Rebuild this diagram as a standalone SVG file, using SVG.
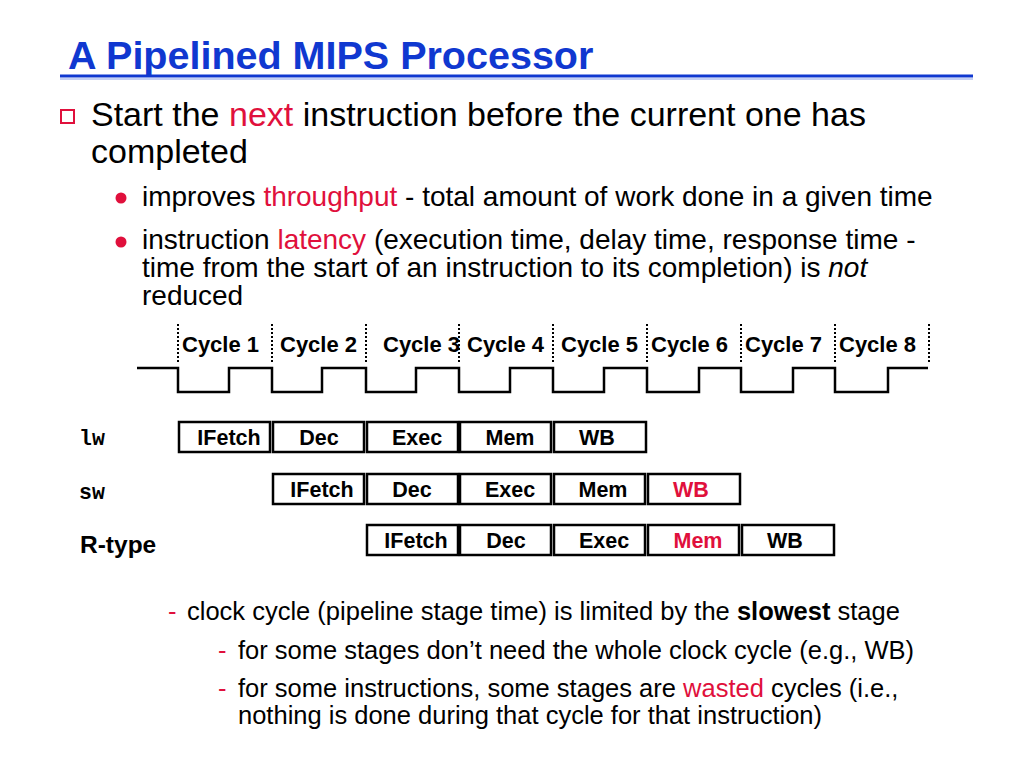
<svg xmlns="http://www.w3.org/2000/svg" width="1024" height="768" viewBox="0 0 1024 768">
<style>
.t{font-family:"Liberation Sans",Arial,sans-serif;fill:#000}
.r{fill:#e0103c}
.b{font-weight:bold}
.stage{fill:#fff;stroke:#000;stroke-width:2.5}
.sl{font-family:"Liberation Sans",Arial,sans-serif;font-weight:bold;font-size:21.5px;text-anchor:middle}
.cyc{font-family:"Liberation Sans",Arial,sans-serif;font-weight:bold;font-size:22px}
.dot{stroke:#000;stroke-width:2;stroke-dasharray:2 2}
.mono{font-family:"Liberation Mono","Courier New",monospace;font-weight:bold;font-size:21.5px}
</style>
<rect width="1024" height="768" fill="#fff"/>
<g id="title">
<text class="t b" x="68" y="69" font-size="39.5" style="fill:#1038d0">A Pipelined MIPS Processor</text>
<line x1="60" y1="76" x2="973" y2="76" stroke="#1038d0" stroke-width="3"/>
<line x1="60" y1="79" x2="973" y2="79" stroke="#8aa0e8" stroke-width="1"/>
</g>
<g id="bullets">
<rect x="61" y="110" width="13" height="13" fill="none" stroke="#e0103c" stroke-width="2"/>
<text class="t" x="91" y="126" font-size="34">Start the <tspan class="r">next</tspan> instruction before the current one has</text>
<text class="t" x="91" y="163" font-size="34">completed</text>
<circle cx="121" cy="198" r="5.5" fill="#e0103c"/>
<text class="t" x="142" y="206" font-size="28">improves <tspan class="r">throughput</tspan> - total amount of work done in a given time</text>
<circle cx="121" cy="242" r="5.5" fill="#e0103c"/>
<text class="t" x="142" y="249" font-size="28">instruction <tspan class="r">latency</tspan> (execution time, delay time, response time -</text>
<text class="t" x="142" y="277" font-size="28">time from the start of an instruction to its completion) is <tspan font-style="italic">not</tspan></text>
<text class="t" x="142" y="305" font-size="28">reduced</text>
</g>
<g id="clock">
<path d="M137 368 H178 V392 H229 V368 H272 V392 H322 V368 H366 V392 H416 V368 H459 V392 H510 V368 H553 V392 H604 V368 H647 V392 H699 V368 H741 V392 H793 V368 H835 V392 H888 V368 H928" fill="none" stroke="#000" stroke-width="2.5"/>
<line class="dot" x1="178" y1="324" x2="178" y2="362"/>
<line class="dot" x1="272" y1="324" x2="272" y2="362"/>
<line class="dot" x1="366" y1="324" x2="366" y2="362"/>
<line class="dot" x1="459" y1="324" x2="459" y2="362"/>
<line class="dot" x1="553" y1="324" x2="553" y2="362"/>
<line class="dot" x1="647" y1="324" x2="647" y2="362"/>
<line class="dot" x1="741" y1="324" x2="741" y2="362"/>
<line class="dot" x1="835" y1="324" x2="835" y2="362"/>
<line class="dot" x1="929" y1="324" x2="929" y2="362"/>
<text class="cyc" x="182" y="352">Cycle 1</text>
<text class="cyc" x="280" y="352">Cycle 2</text>
<text class="cyc" x="383" y="352">Cycle 3</text>
<text class="cyc" x="467" y="352">Cycle 4</text>
<text class="cyc" x="561" y="352">Cycle 5</text>
<text class="cyc" x="651" y="352">Cycle 6</text>
<text class="cyc" x="745" y="352">Cycle 7</text>
<text class="cyc" x="839" y="352">Cycle 8</text>
</g>
<g id="labels">
<text class="mono" x="79" y="445">lw</text>
<text class="mono" x="79" y="499">sw</text>
<text class="t b" x="80" y="553" font-size="24.5">R-type</text>
</g>
<g id="lw">
<rect class="stage" x="179" y="422" width="91" height="30"/>
<rect class="stage" x="273" y="422" width="91" height="30"/>
<rect class="stage" x="367" y="422" width="91" height="30"/>
<rect class="stage" x="460" y="422" width="91" height="30"/>
<rect class="stage" x="554" y="422" width="92" height="30"/>
<text class="sl" x="229" y="445">IFetch</text>
<text class="sl" x="319" y="445">Dec</text>
<text class="sl" x="417" y="445">Exec</text>
<text class="sl" x="510" y="445">Mem</text>
<text class="sl" x="597" y="445">WB</text>
</g>
<g id="sw">
<rect class="stage" x="273" y="474" width="91" height="30"/>
<rect class="stage" x="367" y="474" width="91" height="30"/>
<rect class="stage" x="460" y="474" width="91" height="30"/>
<rect class="stage" x="554" y="474" width="91" height="30"/>
<rect class="stage" x="648" y="474" width="92" height="30"/>
<text class="sl" x="322" y="497">IFetch</text>
<text class="sl" x="412" y="497">Dec</text>
<text class="sl" x="510" y="497">Exec</text>
<text class="sl" x="603" y="497">Mem</text>
<text class="sl r" x="691" y="497">WB</text>
</g>
<g id="rtype">
<rect class="stage" x="367" y="525" width="91" height="30"/>
<rect class="stage" x="460" y="525" width="91" height="30"/>
<rect class="stage" x="554" y="525" width="91" height="30"/>
<rect class="stage" x="648" y="525" width="91" height="30"/>
<rect class="stage" x="742" y="525" width="92" height="30"/>
<text class="sl" x="416" y="548">IFetch</text>
<text class="sl" x="506" y="548">Dec</text>
<text class="sl" x="604" y="548">Exec</text>
<text class="sl r" x="698" y="548">Mem</text>
<text class="sl" x="785" y="548">WB</text>
</g>
<g id="notes">
<text class="t r" x="168" y="620" font-size="25.5">-</text>
<text class="t" x="187" y="620" font-size="25.5">clock cycle (pipeline stage time) is limited by the <tspan class="b">slowest</tspan> stage</text>
<text class="t r" x="218" y="659" font-size="25.5">-</text>
<text class="t" x="238" y="659" font-size="25.5">for some stages don’t need the whole clock cycle (e.g., WB)</text>
<text class="t r" x="218" y="697" font-size="25.5">-</text>
<text class="t" x="238" y="697" font-size="25.5">for some instructions, some stages are <tspan class="r">wasted</tspan> cycles (i.e.,</text>
<text class="t" x="238" y="724" font-size="25.5">nothing is done during that cycle for that instruction)</text>
</g>
</svg>
